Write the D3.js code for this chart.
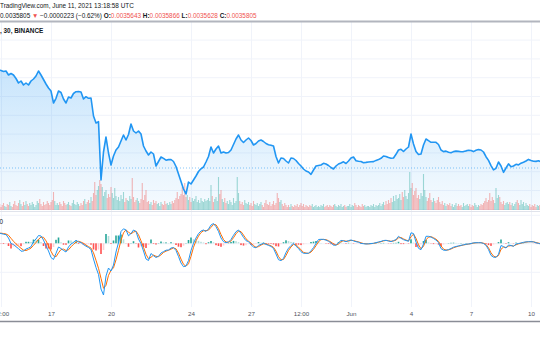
<!DOCTYPE html>
<html>
<head>
<meta charset="utf-8">
<script src="https://cdn.jsdelivr.net/npm/d3@7"></script>
<style>
  html, body { margin: 0; padding: 0; background: #fff; overflow: hidden; }
  svg { display: block; font-family: "Liberation Sans", Arial, sans-serif; }
  text { white-space: pre; }
</style>
</head>
<body>
<svg id="chart" width="540" height="340"></svg>
<script>
// ---- data -------------------------------------------------------------
// 3-hour closes starting 2021-05-14 09:00 UTC
const priceStart = Date.UTC(2021, 4, 14, 9);
const priceStepHours = 3;
const closes = [
  0.0037765,0.0037755,0.0037735,0.0037745,0.0037665,0.0037695,0.0037665,0.0037595,0.0037505,0.0037545,
  0.0037465,0.0037505,0.0037465,0.0037545,0.0037585,0.0037645,0.0037745,0.0037665,0.0037575,0.0037485,
  0.0037405,0.0037345,0.0037105,0.0037199,0.0037345,0.0037315,0.0037185,0.0037105,0.0037225,0.0037205,
  0.0037295,0.0037331,0.0037335,0.0037325,0.0037185,0.0037231,0.0037199,0.0037205,0.0036845,0.0036705,
  0.0036731,0.0035565,0.0036125,0.0036425,0.0036105,0.0035865,0.0036045,0.0036165,0.0036225,0.0036345,
  0.0036465,0.0036365,0.0036475,0.0036685,0.0036545,0.0036505,0.0036545,0.0036485,0.0036245,0.0036145,
  0.0036065,0.0036125,0.0036085,0.0035845,0.0035935,0.0036025,0.0035997,0.0035961,0.0035973,0.0035975,
  0.0035935,0.0035835,0.0035685,0.0035535,0.0035385,0.0035285,0.0035525,0.0035485,0.0035565,0.0035645,
  0.0035735,0.0035789,0.0035825,0.0035925,0.0036035,0.0036225,0.0036105,0.0036185,0.0036245,0.0036105,
  0.0036125,0.0036105,0.0036115,0.0036165,0.0036275,0.0036385,0.0036465,0.0036365,0.0036315,0.0036365,
  0.0036405,0.0036355,0.0036265,0.0036295,0.0036345,0.0036365,0.0036335,0.0036295,0.0036271,0.0036261,
  0.0036245,0.0036035,0.0035905,0.0036005,0.0035995,0.0035945,0.0035905,0.0036005,0.0035995,0.0035955,
  0.0035895,0.0035845,0.0035785,0.0035745,0.0035725,0.0035679,0.0035765,0.0035845,0.0035855,0.0035865,
  0.0035899,0.0035885,0.0035855,0.0035815,0.0035785,0.0035845,0.0035885,0.0035905,0.0035929,0.0035895,
  0.0035945,0.0036005,0.0036025,0.0035951,0.0035939,0.0035935,0.0035911,0.0035917,0.0035925,0.0035931,
  0.0035933,0.0035957,0.0035973,0.0035999,0.0036045,0.0036035,0.0036013,0.0035999,0.0036005,0.0036079,
  0.0036165,0.0036179,0.0036135,0.0036185,0.0036225,0.0036485,0.0036285,0.0036135,0.0036075,0.0036085,
  0.0036265,0.0036385,0.0036351,0.0036319,0.0036321,0.0036319,0.0036275,0.0036165,0.0036133,0.0036143,
  0.0036119,0.0036109,0.0036133,0.0036143,0.0036137,0.0036131,0.0036133,0.0036147,0.0036159,0.0036155,
  0.0036133,0.0036159,0.0036173,0.0036165,0.0036125,0.0036031,0.0035957,0.0035853,0.0035767,0.0035799,
  0.0035925,0.0035845,0.0035719,0.0035805,0.0035887,0.0035831,0.0035845,0.0035879,0.0035867,0.0035901,
  0.0035921,0.0035945,0.0035977,0.0035957,0.0035941,0.0035937,0.0035949,0.0035931
];

// 1.5-hour volume, same start
const volumeStepHours = 1.5;
const volumes = [
  4,6,3,5,7,4,3,6,  5,8,4,3,6,9,5,4,  7,10,6,4,8,5,9,6,  4,7,5,8,6,3,5,9,
  7,11,6,4,8,5,6,9,  7,5,8,10,18,9,5,7,  5,8,6,4,9,7,5,6,  8,5,4,7,10,6,5,8,
  6,4,7,5,9,11,6,8,  10,7,13,9,17,28,15,20,  24,30,26,23,14,18,20,12,  16,13,23,17,12,22,14,10,
  13,9,15,11,18,8,12,10,  9,14,11,32,13,8,10,12,  9,7,11,27,10,15,20,8,  9,6,8,5,10,7,9,6,
  7,4,8,6,5,9,6,7,  5,8,6,9,7,10,12,18,  11,14,16,23,15,27,13,15,  10,13,8,12,9,11,14,8,
  10,7,12,9,8,11,9,10,  12,9,25,14,8,11,13,9,  33,16,20,11,8,12,7,9,  6,10,8,5,12,7,9,33,
  17,9,6,8,5,10,7,6,  8,5,7,4,9,6,5,7,  4,6,8,5,3,7,10,6,  5,8,4,6,9,5,7,17,
  12,8,10,6,4,7,5,3,  5,3,6,4,3,5,4,6,  3,5,7,4,6,3,5,4,  3,5,4,6,3,4,5,3,
  4,3,5,4,6,3,4,5,  3,5,4,3,5,6,4,3,  5,4,6,3,4,5,3,4,  4,6,3,5,4,7,5,3,
  5,4,3,6,4,5,3,4,  4,3,5,4,6,3,5,4,  5,7,4,6,8,5,9,6,  10,7,12,8,14,9,15,11,
  12,16,10,18,13,20,14,11,  17,38,22,27,15,19,22,12,  15,11,17,14,36,20,13,9,  12,17,10,8,12,9,7,10,
  13,8,6,9,5,7,4,6,  5,7,4,6,3,5,7,4,  6,4,5,3,7,4,5,6,  4,6,3,5,4,7,5,3,
  5,4,6,5,7,9,12,8,  10,17,9,13,10,7,22,12,  15,13,8,6,9,5,7,8,  6,8,5,7,4,6,8,10,
  7,5,10,6,8,4,7,5,  4,6,3,5,4,6,3,5,  4,5,3,4
];

// MACD (12, 26, 9) at the 3-hour points, in units of 1e-6
const macdLine = [
  1.03,0.98,0.91,0.87,0.53,-0.02,-0.12,-0.34,-0.53,-0.79,
  -0.77,-0.57,-0.47,-0.34,0.18,0.43,0.78,0.73,0.33,-0.27,
  -0.77,-1.42,-1.62,-1.00,-0.37,-0.52,-0.72,-0.87,-0.37,-0.07,
  0.08,0.31,0.13,0.07,-0.13,-0.29,-0.42,-0.62,-1.57,-2.42,
  -3.12,-4.57,-5.17,-3.27,-2.47,-2.77,-2.17,-0.87,0.08,1.18,
  1.45,1.33,0.75,0.98,1.33,1.18,0.43,-0.04,-0.77,-1.57,
  -1.72,-1.02,-1.24,-1.42,-1.30,-0.97,-0.83,-0.69,-0.67,-0.47,
  -0.42,-0.72,-1.32,-1.97,-2.34,-2.27,-1.72,-0.72,0.01,0.53,
  0.97,1.23,1.33,1.18,1.43,1.83,1.98,1.66,1.18,0.53,
  0.16,0.07,0.13,0.38,0.80,1.16,1.33,0.99,0.59,0.26,
  0.17,-0.14,-0.37,-0.45,-0.20,-0.11,0.01,-0.11,-0.21,-0.31,
  -0.52,-1.07,-1.64,-1.73,-1.51,-0.92,-0.49,-0.22,0.00,-0.29,
  -0.52,-0.84,-1.00,-1.00,-1.00,-0.75,-0.43,-0.01,0.38,0.40,
  0.39,0.32,0.20,0.03,-0.19,-0.19,0.05,0.29,0.25,0.16,
  0.27,0.33,0.24,0.16,0.11,-0.01,-0.04,-0.07,-0.05,-0.02,
  0.00,0.07,0.13,0.19,0.28,0.30,0.23,0.17,0.27,0.37,
  0.70,0.50,0.36,0.28,0.20,1.05,0.98,0.13,-0.50,-0.64,
  -0.07,0.70,0.70,0.63,0.48,0.33,0.07,-0.53,-0.69,-0.70,
  -0.63,-0.52,-0.39,-0.32,-0.26,-0.20,-0.15,-0.09,-0.07,-0.02,
  0.05,0.06,0.06,0.06,-0.02,-0.20,-0.63,-1.21,-1.39,-1.40,
  -1.10,-0.22,-0.33,-0.47,-0.17,-0.22,-0.30,-0.08,-0.02,0.03,
  0.10,0.14,0.16,0.16,0.14,0.05,-0.01,-0.08
];
const signalLine = [
  1.00,1.01,0.98,0.93,0.80,0.50,0.20,-0.05,-0.28,-0.50,
  -0.68,-0.72,-0.62,-0.48,-0.20,0.08,0.40,0.62,0.60,0.25,
  -0.25,-0.80,-1.25,-1.35,-0.95,-0.62,-0.58,-0.72,-0.65,-0.35,
  -0.10,0.12,0.20,0.12,0.00,-0.18,-0.33,-0.48,-0.95,-1.70,
  -2.50,-3.50,-4.50,-4.20,-3.20,-2.70,-2.45,-1.65,-0.70,0.30,
  1.05,1.35,1.10,0.95,1.12,1.22,0.85,0.25,-0.40,-1.10,
  -1.55,-1.40,-1.18,-1.30,-1.33,-1.15,-0.92,-0.78,-0.70,-0.58,
  -0.46,-0.55,-0.98,-1.58,-2.10,-2.30,-2.05,-1.30,-0.40,0.25,
  0.72,1.08,1.25,1.27,1.32,1.60,1.88,1.85,1.45,0.88,
  0.38,0.13,0.10,0.24,0.56,0.95,1.22,1.17,0.82,0.45,
  0.22,0.02,-0.24,-0.40,-0.33,-0.17,-0.06,-0.05,-0.15,-0.25,
  -0.40,-0.78,-1.32,-1.65,-1.62,-1.22,-0.72,-0.36,-0.12,-0.15,
  -0.38,-0.66,-0.90,-0.98,-1.00,-0.88,-0.60,-0.24,0.16,0.37,
  0.39,0.36,0.26,0.12,-0.06,-0.17,-0.07,0.17,0.26,0.21,
  0.22,0.29,0.28,0.20,0.14,0.05,-0.02,-0.05,-0.06,-0.04,
  -0.01,0.04,0.10,0.16,0.24,0.29,0.26,0.20,0.23,0.32,
  0.55,0.58,0.44,0.32,0.24,0.65,0.92,0.50,-0.15,-0.55,
  -0.30,0.35,0.62,0.66,0.56,0.41,0.20,-0.25,-0.58,-0.68,
  -0.66,-0.57,-0.45,-0.36,-0.29,-0.23,-0.17,-0.12,-0.08,-0.04,
  0.02,0.05,0.06,0.06,0.01,-0.12,-0.45,-0.95,-1.28,-1.38,
  -1.22,-0.60,-0.38,-0.42,-0.28,-0.23,-0.27,-0.15,-0.06,0.01,
  0.07,0.12,0.15,0.16,0.15,0.08,0.02,-0.05
];

// last bar (header) and price grid levels
const lastClose = 0.0035805;
const ohlc = { open: "0.0035643", high: "0.0035866", low: "0.0035628", close: "0.0035805" };
const change = "\u22120.0000223 (\u22120.62%)";
const priceGrid = [0.0034985,0.0035365,0.0035741,0.0036117,0.0036493,0.0036869,0.0037245,0.0037621,0.0037997,0.0038373];
const macdGrid = [2.85, 0, -2.85];

// time axis
const timeTicks = [
  Date.UTC(2021,4,14,12), Date.UTC(2021,4,17), Date.UTC(2021,4,20), Date.UTC(2021,4,24),
  Date.UTC(2021,4,27), Date.UTC(2021,4,29,12), Date.UTC(2021,5,1), Date.UTC(2021,5,4),
  Date.UTC(2021,5,7), Date.UTC(2021,5,10)
].map(t => new Date(t));
const timeLabels = ["12:00","17","20","24","27","12:00","Jun","4","7","10"];

// ---- layout -------------------------------------------------------------
const W = 540;
const mainTop = 22, mainBottom = 210;
const macdTop = 212, macdBottom = 307;
const HOUR = 3600e3;

const svg = d3.select("#chart");

const x = d3.scaleUtc()
  .domain([Date.UTC(2021,4,14,12), Date.UTC(2021,5,10,12)])
  .range([1, 541]);
const yPrice = d3.scaleLinear().domain([0.0034965, 0.0038725]).range([mainBottom, mainTop]);
const yVol = d3.scaleLinear().domain([0, 45]).range([mainBottom, mainBottom - 45]);
const yMacd = d3.scaleLinear().domain([-6.37, 3.13]).range([macdBottom, macdTop]);

const priceData = closes.map((c, i) => ({ t: new Date(priceStart + i * priceStepHours * HOUR), c }));
const volData = volumes.map((v, j) => {
  const k = Math.floor(j / 2);
  let up;
  if (j % 2 === 0) up = k === 0 ? true : closes[k] >= closes[k - 1];
  else up = k + 1 < closes.length ? closes[k + 1] >= closes[k] : true;
  return { t: new Date(priceStart + j * volumeStepHours * HOUR), v, up };
});
const macdData = macdLine.map((m, i) => ({
  t: new Date(priceStart + i * priceStepHours * HOUR), m, s: signalLine[i], h: m - signalLine[i]
}));

// ---- grid -------------------------------------------------------------
const grid = svg.append("g");
grid.append("g")
  .attr("transform", `translate(0,${macdBottom})`)
  .call(d3.axisBottom(x).tickValues(timeTicks).tickSize(-(macdBottom - mainTop)).tickFormat(""))
  .call(g => g.select(".domain").remove())
  .selectAll("line").attr("stroke", "#f0f3fa");
grid.append("g")
  .call(d3.axisRight(yPrice).tickValues(priceGrid).tickSize(W).tickFormat(""))
  .call(g => g.select(".domain").remove())
  .selectAll("line").attr("stroke", "#f0f3fa");
grid.append("g")
  .call(d3.axisRight(yMacd).tickValues(macdGrid).tickSize(W).tickFormat(""))
  .call(g => g.select(".domain").remove())
  .selectAll("line").attr("stroke", "#f0f3fa");

// ---- main pane: area + line -------------------------------------------
const defs = svg.append("defs");
const grad = defs.append("linearGradient").attr("id", "areaFill")
  .attr("gradientUnits", "userSpaceOnUse").attr("x1", 0).attr("x2", 0)
  .attr("y1", 60).attr("y2", mainBottom);
grad.append("stop").attr("offset", 0).attr("stop-color", "#2196f3").attr("stop-opacity", 0.26);
grad.append("stop").attr("offset", 1).attr("stop-color", "#2196f3").attr("stop-opacity", 0.04);
defs.append("clipPath").attr("id", "mainClip").append("rect")
  .attr("x", 0).attr("y", mainTop).attr("width", W).attr("height", mainBottom - mainTop);
defs.append("clipPath").attr("id", "macdClip").append("rect")
  .attr("x", 0).attr("y", macdTop).attr("width", W).attr("height", macdBottom - macdTop);

const main = svg.append("g").attr("clip-path", "url(#mainClip)");

main.append("path")
  .datum(priceData)
  .attr("fill", "url(#areaFill)")
  .attr("d", d3.area().x(d => x(d.t)).y0(mainBottom).y1(d => yPrice(d.c)));

// volume
main.append("g").selectAll("rect").data(volData).join("rect")
  .attr("x", d => x(d.t) - 0.55)
  .attr("width", 1.1)
  .attr("y", d => yVol(d.v))
  .attr("height", d => mainBottom - yVol(d.v))
  .attr("fill", d => d.up ? "rgba(38,166,154,0.42)" : "rgba(239,83,80,0.42)");

// last price line
main.append("line")
  .attr("x1", 0).attr("x2", W)
  .attr("y1", yPrice(lastClose)).attr("y2", yPrice(lastClose))
  .attr("stroke", "#2196f3").attr("stroke-opacity", 0.55)
  .attr("stroke-dasharray", "1,2").attr("stroke-width", 1);

main.append("path")
  .datum(priceData)
  .attr("fill", "none")
  .attr("stroke", "#2196f3")
  .attr("stroke-width", 1.6)
  .attr("stroke-linejoin", "round")
  .attr("d", d3.line().x(d => x(d.t)).y(d => yPrice(d.c)));

// ---- MACD pane -----------------------------------------------------------
const macdG = svg.append("g").attr("clip-path", "url(#macdClip)");
macdG.append("g").selectAll("rect").data(macdData).join("rect")
  .attr("x", d => x(d.t) - 0.8)
  .attr("width", 1.6)
  .attr("y", d => Math.min(yMacd(0), yMacd(d.h)))
  .attr("height", d => Math.abs(yMacd(d.h) - yMacd(0)))
  .attr("fill", (d, i) => {
    const prev = i > 0 ? macdData[i - 1].h : d.h;
    if (d.h >= 0) return d.h >= prev ? "#26a69a" : "#b2dfdb";
    return d.h <= prev ? "#ff5252" : "#ffcdd2";
  });
macdG.append("path").datum(macdData)
  .attr("fill", "none").attr("stroke", "#ff6d00").attr("stroke-width", 1)
  .attr("d", d3.line().x(d => x(d.t)).y(d => yMacd(d.s)));
macdG.append("path").datum(macdData)
  .attr("fill", "none").attr("stroke", "#2196f3").attr("stroke-width", 1)
  .attr("d", d3.line().x(d => x(d.t)).y(d => yMacd(d.m)));

// pane separators and frame
svg.append("line").attr("x1", 0).attr("x2", W).attr("y1", 211.5).attr("y2", 211.5)
  .attr("stroke", "#e0e3eb").attr("stroke-width", 1);
svg.append("line").attr("x1", 0).attr("x2", W).attr("y1", 21.5).attr("y2", 21.5)
  .attr("stroke", "#b2b5be").attr("stroke-width", 2);
svg.append("line").attr("x1", 0).attr("x2", W).attr("y1", 321.5).attr("y2", 321.5)
  .attr("stroke", "#8a8d96").attr("stroke-width", 1.5);

// ---- time axis -----------------------------------------------------------
svg.append("g")
  .attr("transform", `translate(0,${macdBottom})`)
  .call(d3.axisBottom(x).tickValues(timeTicks).tickSize(0).tickPadding(5)
    .tickFormat((d, i) => timeLabels[i]))
  .call(g => g.select(".domain").remove())
  .selectAll("text")
  .attr("font-family", "'Liberation Sans', Arial, sans-serif")
  .attr("font-size", 6.2)
  .attr("fill", "#50535e");

// ---- header --------------------------------------------------------------
const head = svg.append("g").attr("font-size", 6.4).attr("fill", "#131722");
head.append("text").attr("x", 0).attr("y", 8.4)
  .text("TradingView.com, June 11, 2021 13:18:58 UTC");
const l2 = head.append("text").attr("x", 0).attr("y", 17.6);
l2.append("tspan").text(ohlc.close + " ");
l2.append("tspan").attr("fill", "#ef5350").text("\u25BC");
l2.append("tspan").text(" " + change + " ");
[["O:", ohlc.open], ["H:", ohlc.high], ["L:", ohlc.low], ["C:", ohlc.close]].forEach(([k, v], i) => {
  l2.append("tspan").attr("font-weight", "bold").text(k);
  l2.append("tspan").attr("fill", "#ef5350").text(v + (i < 3 ? " " : ""));
});
head.append("text").attr("x", 0).attr("y", 33).attr("font-weight", "bold")
  .text(", 30, BINANCE");

// MACD legend tail
svg.append("text").attr("x", 3).attr("y", 223.5).attr("text-anchor", "end")
  .attr("font-size", 6.4).attr("fill", "#131722").text("0");
</script>
</body>
</html>
